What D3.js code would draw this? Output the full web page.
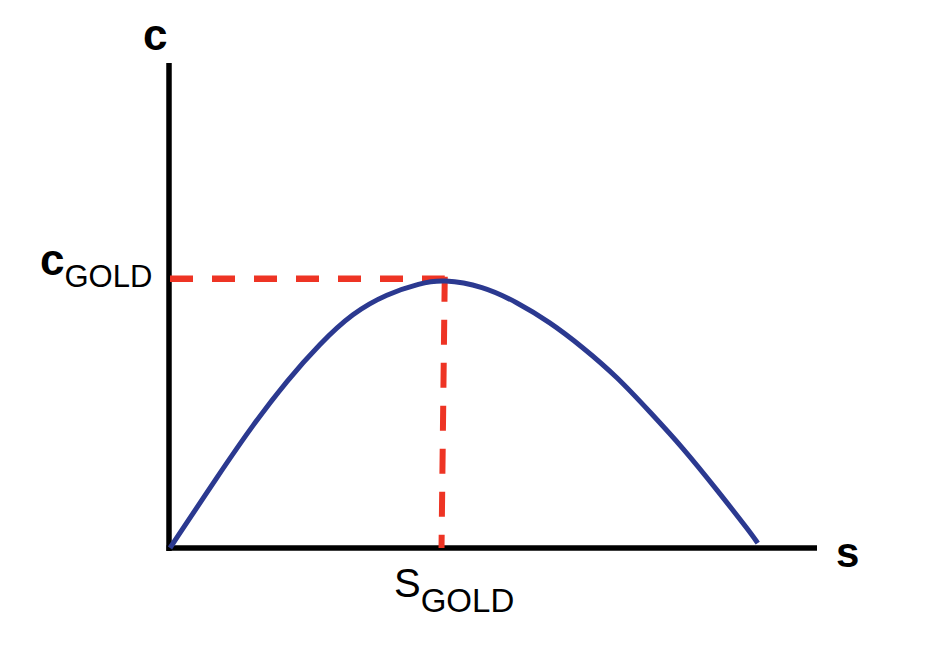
<!DOCTYPE html>
<html>
<head>
<meta charset="utf-8">
<script src="https://cdn.jsdelivr.net/npm/d3@7"></script>
<style>
  body { margin: 0; background: #fff; }
  svg { display: block; }
  text { font-family: "Liberation Sans", Arial, Helvetica, sans-serif; fill: #000; }
</style>
</head>
<body>
<svg width="948" height="652"></svg>
<script>
// consumption per worker (c) against saving rate (s)
var sVals = [0, 0.77, 1.28, 1.81, 2.31, 2.82, 3.35, 3.86, 4.21, 4.83, 5.35, 5.86, 6.37, 6.90, 7.41, 7.92, 8.44, 8.95, 9.07]
var cVals = [0, 1.55, 2.54, 3.46, 4.21, 4.85, 5.24, 5.46, 5.54, 5.40, 5.07, 4.66, 4.14, 3.53, 2.80, 2.06, 1.20, 0.33, 0.10]

var goldS = [4.24, 4.19]   // top and bottom of the vertical guide
var goldC = 5.55

var axisLabels = ['c', 's']

var svg = d3.select('svg'),
    width = +svg.attr('width'),
    height = +svg.attr('height')

var x = d3.scaleLinear().domain([0, 10]).range([170, 818])
var y = d3.scaleLinear().domain([0, 10]).range([548, 63])

var data = sVals.map(function(s, i) { return { s: s, c: cVals[i] } })

// axes, plain lines with no ticks
svg.append('line')
    .attr('x1', x(0) - 1).attr('x2', x(0) - 1)
    .attr('y1', y(10)).attr('y2', y(0) + 3)
    .attr('stroke', '#000')
    .attr('stroke-width', 5.5)

svg.append('line')
    .attr('x1', x(0) - 3.5).attr('x2', x(10) - 1)
    .attr('y1', y(0)).attr('y2', y(0))
    .attr('stroke', '#000')
    .attr('stroke-width', 5.5)

// golden rule guides
svg.append('line')
    .attr('x1', x(0)).attr('x2', x(goldS[0]))
    .attr('y1', y(goldC)).attr('y2', y(goldC))
    .attr('stroke', '#ee3424')
    .attr('stroke-width', 6.5)
    .attr('stroke-dasharray', '23,19')

svg.append('line')
    .attr('x1', x(goldS[0])).attr('x2', x(goldS[1]))
    .attr('y1', y(goldC) - 2).attr('y2', y(0))
    .attr('stroke', '#ee3424')
    .attr('stroke-width', 6)
    .attr('stroke-dasharray', '25,18')

// the curve, smoothed through the read points
var line = d3.line()
    .x(function(d) { return x(d.s) })
    .y(function(d) { return y(d.c) })
    .curve(d3.curveBasis)

svg.append('path')
    .datum(data)
    .attr('d', line)
    .attr('fill', 'none')
    .attr('stroke', '#2b3990')
    .attr('stroke-width', 5)

// labels
svg.append('text')
    .attr('x', 143).attr('y', 50)
    .style('font-size', '44px')
    .style('font-weight', 'bold')
    .text(axisLabels[0])

svg.append('text')
    .attr('x', 836).attr('y', 567)
    .style('font-size', '42px')
    .style('font-weight', 'bold')
    .text(axisLabels[1])

var cg = svg.append('text').attr('x', 40).attr('y', 275)
cg.append('tspan')
    .style('font-size', '44px')
    .style('font-weight', 'bold')
    .text('c')
cg.append('tspan')
    .attr('dy', 12)
    .style('font-size', '31px')
    .text('GOLD')

var sg = svg.append('text').attr('x', 394).attr('y', 597)
sg.append('tspan')
    .style('font-size', '40px')
    .text('S')
sg.append('tspan')
    .attr('dy', 15)
    .style('font-size', '33px')
    .text('GOLD')
</script>
</body>
</html>
